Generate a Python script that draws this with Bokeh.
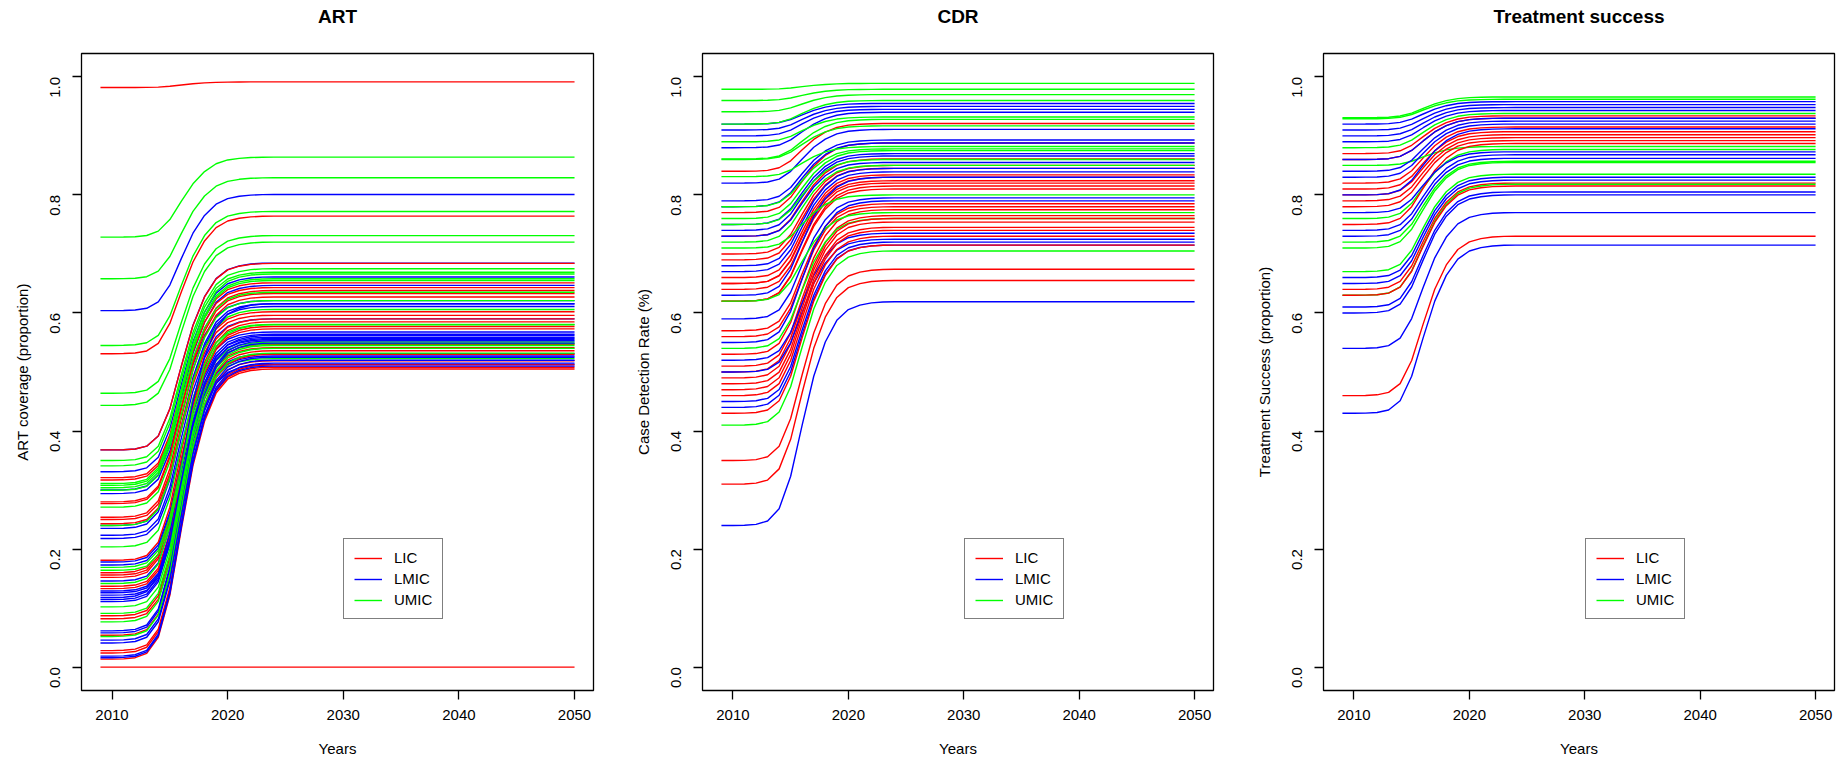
from bokeh.plotting import figure
from bokeh.layouts import row
from bokeh.models import Range1d, FixedTicker, NumeralTickFormatter, Legend, LegendItem
from bokeh.embed import file_html
from bokeh.resources import INLINE

# ---------------- data ----------------
years = list(range(2009, 2051))
# share of the start->end change reached in each year
progress = [0.0, 0.0, 0.001, 0.005, 0.02, 0.075, 0.22, 0.45, 0.667, 0.82,
            0.917, 0.965, 0.985, 0.995, 0.999] + [1.0] * 27

x_ticks = [2010, 2020, 2030, 2040, 2050]
y_ticks = [0.0, 0.2, 0.4, 0.6, 0.8, 1.0]
group_names = ["LIC", "LMIC", "UMIC"]
group_colors = ["#FF0000", "#0000FF", "#00FF00"]

# ART coverage
art_lic_start = [0.982, 0.531, 0.368, 0.321, 0.317, 0.280, 0.277, 0.254, 0.250, 0.243, 0.181, 0.160,
                 0.156, 0.152, 0.137, 0.133, 0.087, 0.082, 0.054, 0.028, 0.024, 0.0135, 0.0]
art_lic_end = [0.9915, 0.764, 0.684, 0.651, 0.643, 0.638, 0.633, 0.627, 0.602, 0.596, 0.590, 0.585,
               0.577, 0.573, 0.547, 0.541, 0.536, 0.519, 0.530, 0.512, 0.508, 0.505, 0.0]
art_lmic_start = [0.604, 0.368, 0.331, 0.300, 0.294, 0.240, 0.235, 0.2235, 0.218, 0.178, 0.173, 0.146,
                  0.129, 0.126, 0.122, 0.118, 0.1146, 0.111, 0.0615, 0.058, 0.0457, 0.041, 0.0186, 0.016]
art_lmic_end = [0.8007, 0.6845, 0.661, 0.6467, 0.621, 0.6157, 0.611, 0.590, 0.5677, 0.564, 0.559, 0.555,
                0.531, 0.527, 0.513, 0.6155, 0.562, 0.557, 0.553, 0.549, 0.525, 0.520, 0.515, 0.510]
art_umic_start = [0.7285, 0.658, 0.545, 0.464, 0.4435, 0.350, 0.341, 0.311, 0.308, 0.304, 0.2996,
                  0.271, 0.240, 0.2037, 0.169, 0.164, 0.1416, 0.102, 0.091, 0.0767, 0.052]
art_umic_end = [0.864, 0.829, 0.772, 0.731, 0.720, 0.675, 0.669, 0.666, 0.658, 0.655, 0.635,
                0.621, 0.606, 0.5807, 0.5507, 0.5226, 0.580, 0.548, 0.545, 0.540, 0.532]

# Case detection rate
cdr_lic_start = [0.84, 0.77, 0.73, 0.70, 0.69, 0.66, 0.65, 0.65, 0.64, 0.62, 0.62, 0.57,
                 0.56, 0.53, 0.51, 0.50, 0.49, 0.48, 0.47, 0.46, 0.43, 0.35, 0.31]
cdr_lic_end = [0.921, 0.888, 0.861, 0.850, 0.845, 0.834, 0.830, 0.824, 0.820, 0.815, 0.810, 0.785,
               0.780, 0.775, 0.765, 0.760, 0.754, 0.745, 0.740, 0.730, 0.715, 0.674, 0.655]
cdr_lmic_start = [0.92, 0.91, 0.90, 0.88, 0.82, 0.79, 0.78, 0.75, 0.74, 0.73, 0.68, 0.67,
                  0.63, 0.59, 0.55, 0.52, 0.50, 0.45, 0.44, 0.24]
cdr_lmic_end = [0.955, 0.950, 0.945, 0.940, 0.911, 0.893, 0.888, 0.870, 0.866, 0.855, 0.845, 0.839,
                0.830, 0.795, 0.790, 0.735, 0.725, 0.720, 0.715, 0.619]
cdr_umic_start = [0.979, 0.96, 0.941, 0.92, 0.89, 0.861, 0.86, 0.831, 0.78, 0.76, 0.75, 0.72,
                  0.71, 0.62, 0.54, 0.41]
cdr_umic_end = [0.989, 0.979, 0.970, 0.960, 0.932, 0.928, 0.917, 0.882, 0.878, 0.875, 0.860, 0.850,
                0.800, 0.770, 0.760, 0.705]

# Treatment success
ts_lic_start = [0.87, 0.86, 0.82, 0.81, 0.80, 0.79, 0.78, 0.75, 0.64, 0.63, 0.46]
ts_lic_end = [0.934, 0.930, 0.915, 0.907, 0.902, 0.897, 0.892, 0.887, 0.820, 0.815, 0.730]
ts_lmic_start = [0.92, 0.91, 0.90, 0.89, 0.86, 0.84, 0.83, 0.80, 0.77, 0.74, 0.73, 0.66,
                 0.65, 0.61, 0.60, 0.54, 0.43]
ts_lmic_end = [0.958, 0.953, 0.948, 0.943, 0.930, 0.925, 0.920, 0.912, 0.873, 0.868, 0.862, 0.830,
               0.825, 0.805, 0.800, 0.770, 0.715]
ts_umic_start = [0.931, 0.929, 0.88, 0.85, 0.76, 0.72, 0.71, 0.67, 0.63]
ts_umic_end = [0.966, 0.962, 0.938, 0.882, 0.877, 0.857, 0.855, 0.835, 0.818]

FONT = "Liberation Sans"


def make_panel(title, ylabel, groups, border_left, border_right):
    # a blank second title line lifts the title text higher above the frame
    p = figure(width=615, height=763, title=title + "\n ",
               x_range=Range1d(2007.36, 2051.64), y_range=Range1d(-0.0396, 1.0396),
               output_backend="svg", toolbar_location=None,
               min_border_left=border_left, min_border_right=border_right,
               min_border_top=53, min_border_bottom=73)
    p.title.align = "center"
    p.title.text_font = FONT
    p.title.text_font_size = "19px"
    p.title.text_font_style = "bold"
    p.title.text_color = "black"
    p.title.text_line_height = 1.2
    p.title.standoff = 2
    p.xgrid.visible = False
    p.ygrid.visible = False
    p.outline_line_color = "black"
    p.outline_line_width = 1.3
    p.background_fill_color = "white"
    p.border_fill_color = "white"

    for ax in (p.xaxis[0], p.yaxis[0]):
        ax.axis_line_color = None
        ax.major_tick_in = 0
        ax.major_tick_out = 9
        ax.major_tick_line_color = "black"
        ax.major_tick_line_width = 1.3
        ax.minor_tick_line_color = None
        ax.major_label_text_font = FONT
        ax.major_label_text_font_size = "15px"
        ax.major_label_text_color = "black"
        ax.axis_label_text_font = FONT
        ax.axis_label_text_font_size = "15px"
        ax.axis_label_text_font_style = "normal"
        ax.axis_label_text_color = "black"

    p.xaxis.ticker = FixedTicker(ticks=x_ticks)
    p.yaxis.ticker = FixedTicker(ticks=y_ticks)
    p.yaxis.formatter = NumeralTickFormatter(format="0.0")
    p.yaxis.major_label_orientation = 3.14159265 / 2
    p.xaxis.major_label_standoff = 10
    p.yaxis.major_label_standoff = 17
    p.xaxis.axis_label = "Years"
    p.yaxis.axis_label = ylabel
    p.xaxis.axis_label_standoff = 17
    p.yaxis.axis_label_standoff = 12

    first = {}
    n = max(len(g[0]) for g in groups)
    for i in range(n):
        for gi, (starts, ends) in enumerate(groups):
            if i < len(starts):
                s, e = starts[i], ends[i]
                ys = [s + (e - s) * f for f in progress]
                r = p.line(years, ys, line_color=group_colors[gi], line_width=1.4)
                first.setdefault(gi, r)

    legend = Legend(items=[LegendItem(label=group_names[gi], renderers=[first[gi]]) for gi in range(3)],
                    location=(262, 71), orientation="vertical",
                    padding=10, spacing=4, margin=0,
                    glyph_width=28, glyph_height=14, label_height=14, label_standoff=12,
                    label_text_font=FONT, label_text_font_size="15px", label_text_color="black",
                    border_line_color="black", border_line_width=1.3,
                    background_fill_color="white", background_fill_alpha=1.0)
    p.add_layout(legend)
    return p


p1 = make_panel("ART", "ART coverage (proportion)",
                [(art_lic_start, art_lic_end), (art_lmic_start, art_lmic_end), (art_umic_start, art_umic_end)],
                81, 22)
p2 = make_panel("CDR", "Case Detection Rate (%)",
                [(cdr_lic_start, cdr_lic_end), (cdr_lmic_start, cdr_lmic_end), (cdr_umic_start, cdr_umic_end)],
                87, 17)
p3 = make_panel("Treatment success", "Treatment Success (proportion)",
                [(ts_lic_start, ts_lic_end), (ts_lmic_start, ts_lmic_end), (ts_umic_start, ts_umic_end)],
                93, 11)

layout = row(p1, p2, p3)
open("out.html", "w").write(file_html(layout, INLINE))
